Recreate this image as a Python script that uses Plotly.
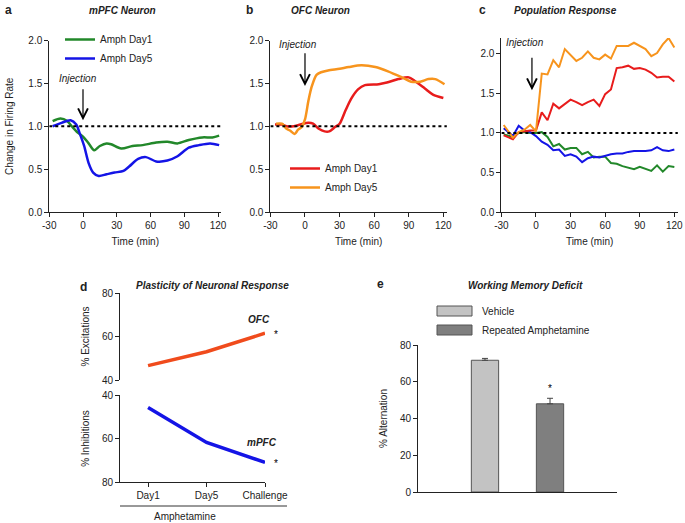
import plotly.graph_objects as go

# --- a: mPFC neuron ---
a_day1_t = [-27, -20, -14, -10, -5, 0, 5, 10, 15, 21, 25, 34, 44, 53, 65, 75, 84, 94, 106, 115, 121]
a_day1_y = [1.06, 1.09, 1.06, 1.00, 0.93, 0.88, 0.80, 0.72, 0.77, 0.80, 0.79, 0.74, 0.77, 0.78, 0.81, 0.82, 0.80, 0.84, 0.87, 0.87, 0.89]
a_day5_t = [-27, -19, -11, -6, -3, 1, 5, 9, 14, 21, 28, 36, 41, 49, 56, 65, 75, 84, 94, 103, 113, 121]
a_day5_y = [1.00, 1.04, 1.07, 1.02, 0.92, 0.77, 0.57, 0.46, 0.42, 0.44, 0.46, 0.48, 0.53, 0.62, 0.64, 0.59, 0.60, 0.65, 0.75, 0.78, 0.80, 0.78]

# --- b: OFC neuron ---
b_day1_t = [-26, -20, -16, -10, -4, 3, 7, 12, 17, 21, 26, 30, 35, 40, 46, 52, 64, 71, 81, 90, 95, 104, 111, 120]
b_day1_y = [1.02, 1.02, 1.00, 1.00, 1.02, 1.04, 1.03, 0.97, 0.94, 0.94, 0.99, 1.03, 1.18, 1.32, 1.43, 1.48, 1.49, 1.51, 1.55, 1.57, 1.53, 1.44, 1.37, 1.33]
b_day5_t = [-25, -20, -16, -13, -9, -6, -3, 0, 3, 6, 10, 14, 20, 30, 38, 49, 61, 72, 84, 92, 100, 107, 113, 121]
b_day5_y = [1.03, 1.03, 0.97, 0.95, 0.91, 0.96, 0.99, 1.08, 1.30, 1.47, 1.60, 1.63, 1.65, 1.67, 1.69, 1.71, 1.69, 1.64, 1.57, 1.52, 1.52, 1.55, 1.55, 1.49]

# --- c: population response ---
c_t = [-28, -20, -15, -10, -5, 0, 5, 10, 15, 20, 25, 30, 35, 40, 45, 50, 55, 60, 65, 70, 75, 80, 85, 90, 95, 100, 105, 110, 115, 120]
c_ofc_day5 = [1.10, 0.94, 1.01, 1.04, 1.10, 1.02, 1.75, 1.74, 1.92, 1.83, 2.06, 1.98, 1.91, 1.95, 2.03, 1.95, 1.93, 1.99, 1.94, 2.10, 2.10, 2.10, 2.14, 2.10, 2.06, 1.97, 2.01, 2.12, 2.20, 2.08]
c_ofc_day1 = [0.97, 0.92, 1.01, 1.02, 1.03, 1.03, 1.26, 1.16, 1.37, 1.31, 1.36, 1.42, 1.39, 1.35, 1.39, 1.42, 1.34, 1.49, 1.55, 1.82, 1.83, 1.85, 1.81, 1.82, 1.80, 1.76, 1.70, 1.71, 1.71, 1.65]
c_mpfc_day1 = [0.98, 0.95, 1.00, 1.01, 1.00, 1.00, 1.01, 0.95, 0.83, 0.86, 0.79, 0.81, 0.81, 0.73, 0.76, 0.69, 0.70, 0.70, 0.62, 0.61, 0.58, 0.56, 0.54, 0.57, 0.54, 0.52, 0.59, 0.51, 0.58, 0.57]
c_mpfc_day5 = [1.06, 0.96, 1.09, 1.03, 1.01, 0.96, 0.89, 0.85, 0.78, 0.79, 0.71, 0.73, 0.70, 0.63, 0.68, 0.70, 0.69, 0.71, 0.73, 0.74, 0.74, 0.76, 0.77, 0.77, 0.77, 0.78, 0.82, 0.78, 0.77, 0.79]

time_ticks = [-30, 0, 30, 60, 90, 120]
time_labels = ["-30", "0", "30", "60", "90", "120"]

# --- d: plasticity ---
d_days = ["Day1", "Day5", "Challenge"]
d_ofc = [46.6, 53.0, 61.5]
d_mpfc = [45.8, 61.8, 71.0]

# --- e: working memory ---
e_groups = ["Vehicle", "Repeated Amphetamine"]
e_values = [71.7, 48.0]
e_err = [1.0, 3.0]

GREEN = "#22882a"
BLUE = "#1414e6"
RED = "#e81c1c"
ORANGE = "#f7941d"
FONT = "Arial, Liberation Sans, sans-serif"

fig = go.Figure()

def line(x, y, color, name, xa, ya, legend=None, width=2.5, shape="spline"):
    fig.add_trace(go.Scatter(
        x=x, y=y, mode="lines", name=name, xaxis=xa, yaxis=ya,
        line=dict(color=color, width=width, shape=shape, smoothing=0.8 if shape == "spline" else None),
        showlegend=legend is not None, legend=legend or "legend",
    ))

line(a_day1_t, a_day1_y, GREEN, "Amph Day1", "x", "y", "legend")
line(a_day5_t, a_day5_y, BLUE, "Amph Day5", "x", "y", "legend")
line(b_day1_t, b_day1_y, RED, "Amph Day1", "x2", "y2", "legend2")
line(b_day5_t, b_day5_y, ORANGE, "Amph Day5", "x2", "y2", "legend2")
line(c_t, c_mpfc_day1, GREEN, "mPFC Day1", "x3", "y3", width=2, shape="linear")
line(c_t, c_mpfc_day5, BLUE, "mPFC Day5", "x3", "y3", width=2, shape="linear")
line(c_t, c_ofc_day1, RED, "OFC Day1", "x3", "y3", width=2, shape="linear")
line(c_t, c_ofc_day5, ORANGE, "OFC Day5", "x3", "y3", width=2, shape="linear")

day_idx = list(range(len(d_days)))
line(day_idx, d_ofc, "#f04b1c", "OFC", "x4", "y4", width=3.5, shape="linear")
line(day_idx, d_mpfc, BLUE, "mPFC", "x5", "y5", width=3.5, shape="linear")

fig.add_trace(go.Bar(
    x=e_groups, y=e_values, xaxis="x6", yaxis="y6", width=0.42, showlegend=False,
    marker=dict(color=["#c3c3c3", "#7f7f7f"], line=dict(color="#555", width=1)),
    error_y=dict(type="data", array=e_err, arrayminus=[0, 0], symmetric=False,
                 color="#444", thickness=1, width=3),
))

ax = dict(showline=True, linecolor="#222", linewidth=1, ticks="outside", ticklen=4,
          tickcolor="#222", showgrid=False, zeroline=False, automargin=False,
          tickfont=dict(size=10, color="#222", family=FONT))
time_ax = dict(ax, range=[-30, 123], tickvals=time_ticks, ticktext=time_labels,
               title=dict(text="Time (min)", font=dict(size=10), standoff=7))
rate_ax = dict(ax, range=[0, 2.0], tickvals=[0, 0.5, 1.0, 1.5, 2.0], tickformat=".1f")

ya_top, ya_bot = 1 - 40.5 / 523, 1 - 212 / 523

fig.update_layout(
    template="none",
    width=685, height=523, margin=dict(l=0, r=0, t=0, b=0, autoexpand=False),
    paper_bgcolor="white", plot_bgcolor="white",
    font=dict(family=FONT, size=10, color="#222"),
    xaxis=dict(time_ax, domain=[49.25 / 685, 221.4 / 685], anchor="y"),
    yaxis=dict(rate_ax, domain=[ya_bot, ya_top], anchor="x",
               title=dict(text="Change in Firing Rate", font=dict(size=10), standoff=12)),
    xaxis2=dict(time_ax, domain=[270.4 / 685, 446.8 / 685], anchor="y2"),
    yaxis2=dict(rate_ax, domain=[ya_bot, ya_top], anchor="x2"),
    xaxis3=dict(time_ax, domain=[501.4 / 685, 677.8 / 685], anchor="y3"),
    yaxis3=dict(rate_ax, range=[0, 2.2], domain=[ya_bot, 1 - 38 / 523], anchor="x3"),
    xaxis4=dict(visible=False, range=[-0.48, 2.0], domain=[120 / 685, 265 / 685], anchor="y4"),
    yaxis4=dict(ax, range=[40, 80], tickvals=[40, 60, 80], domain=[1 - 380 / 523, 1 - 293 / 523],
                anchor="x4", title=dict(text="% Excitations", font=dict(size=10), standoff=10)),
    xaxis5=dict(ax, range=[-0.48, 2.0], tickvals=day_idx, ticktext=d_days,
                domain=[120 / 685, 265 / 685], anchor="y5"),
    yaxis5=dict(ax, range=[80, 40], tickvals=[40, 60, 80], domain=[1 - 482 / 523, 1 - 395 / 523],
                anchor="x5", title=dict(text="% Inhibitions", font=dict(size=10), standoff=10)),
    xaxis6=dict(ax, type="category", categoryarray=e_groups, range=[-1.03, 2.03], ticks="",
                showticklabels=False, domain=[418 / 685, 617 / 685], anchor="y6"),
    yaxis6=dict(ax, range=[0, 80], tickvals=[0, 20, 40, 60, 80], domain=[1 - 492 / 523, 1 - 345 / 523],
                anchor="x6", title=dict(text="% Alternation", font=dict(size=10), standoff=10)),
    legend=dict(x=60 / 685, y=1 - 25 / 523, xanchor="left", yanchor="top", bgcolor="rgba(0,0,0,0)",
                font=dict(size=10), tracegroupgap=0, itemwidth=30),
    legend2=dict(x=285 / 685, y=1 - 154 / 523, xanchor="left", yanchor="top", bgcolor="rgba(0,0,0,0)",
                 font=dict(size=10), tracegroupgap=0, itemwidth=30),
)

shapes = []
for xr, yr in [("x", "y"), ("x2", "y2"), ("x3", "y3")]:
    shapes.append(dict(type="line", xref=xr, yref=yr, x0=-30, x1=130, y0=1, y1=1,
                       line=dict(color="black", width=2, dash="dot")))
# amphetamine bracket under panel d
shapes.append(dict(type="line", xref="paper", yref="paper", x0=120 / 685, x1=287 / 685,
                   y0=1 - 506 / 523, y1=1 - 506 / 523, line=dict(color="#333", width=1)))
# legend boxes for panel e
shapes.append(dict(type="rect", xref="paper", yref="paper", x0=437 / 685, x1=472 / 685,
                   y0=1 - 316 / 523, y1=1 - 306 / 523, fillcolor="#c3c3c3", line=dict(color="#555", width=1)))
shapes.append(dict(type="rect", xref="paper", yref="paper", x0=437 / 685, x1=472 / 685,
                   y0=1 - 335 / 523, y1=1 - 325 / 523, fillcolor="#7f7f7f", line=dict(color="#555", width=1)))
fig.update_layout(shapes=shapes)

ann = []
def paper_text(text, x, y, size=10, anchor="center", bold=False, italic=False):
    if bold:
        text = f"<b>{text}</b>"
    if italic:
        text = f"<i>{text}</i>"
    ann.append(dict(text=text, x=x / 685, y=1 - y / 523, xref="paper", yref="paper",
                    xanchor=anchor, yanchor="middle", showarrow=False, font=dict(size=size)))

paper_text("a", 3, 10, 12, "left", bold=True)
paper_text("mPFC Neuron", 122, 10, bold=True, italic=True)
paper_text("b", 244, 10, 12, "left", bold=True)
paper_text("OFC Neuron", 320, 10, bold=True, italic=True)
paper_text("c", 477, 10, 12, "left", bold=True)
paper_text("Population Response", 565, 10, bold=True, italic=True)
paper_text("d", 78, 287, 12, "left", bold=True)
paper_text("Plasticity of Neuronal Response", 213, 285, bold=True, italic=True)
paper_text("e", 375, 284, 12, "left", bold=True)
paper_text("Working Memory Deficit", 525, 285, bold=True, italic=True)
paper_text("Amphetamine", 185, 516)
paper_text("Vehicle", 480, 311, anchor="left")
paper_text("Repeated Amphetamine", 480, 330, anchor="left")

# injection markers
for xr, yr, tx, ty, axx, tail, tip in [("x", "y", -4.4, 1.56, 0, 1.45, 1.07),
                                        ("x2", "y2", -6, 1.95, 0, 1.87, 1.47),
                                        ("x3", "y3", -9.5, 2.14, -3.5, 1.97, 1.54)]:
    ann.append(dict(text="<i>Injection</i>", x=tx, y=ty, xref=xr, yref=yr, showarrow=False,
                    font=dict(size=10)))
    ann.append(dict(text="", x=axx, y=tip, ax=axx, ay=tail, xref=xr, yref=yr, axref=xr, ayref=yr,
                    showarrow=True, arrowhead=5, arrowsize=1.6, arrowwidth=1.2, arrowcolor="black"))

# panel d labels
ann.append(dict(text="<b><i>OFC</i></b>", x=2, y=d_ofc[2], xref="x4", yref="y4", xshift=-6, yshift=14,
                showarrow=False, font=dict(size=10)))
ann.append(dict(text="*", x=2, y=d_ofc[2], xref="x4", yref="y4", xshift=11, yshift=-1,
                showarrow=False, font=dict(size=10, color="black")))
ann.append(dict(text="<b><i>mPFC</i></b>", x=2, y=d_mpfc[2], xref="x5", yref="y5", xshift=-3, yshift=20,
                showarrow=False, font=dict(size=10)))
ann.append(dict(text="*", x=2, y=d_mpfc[2], xref="x5", yref="y5", xshift=11, yshift=-1,
                showarrow=False, font=dict(size=10, color="black")))
# panel e asterisk
ann.append(dict(text="*", x=e_groups[1], y=e_values[1] + e_err[1], xref="x6", yref="y6", yshift=10,
                showarrow=False, font=dict(size=10, color="black")))
fig.update_layout(annotations=ann)

# drop the browser's default body margin so the 685x523 figure sits at the page origin
fig.write_html("out.html", config={"displayModeBar": False},
               post_script="document.body.style.margin='0';")
